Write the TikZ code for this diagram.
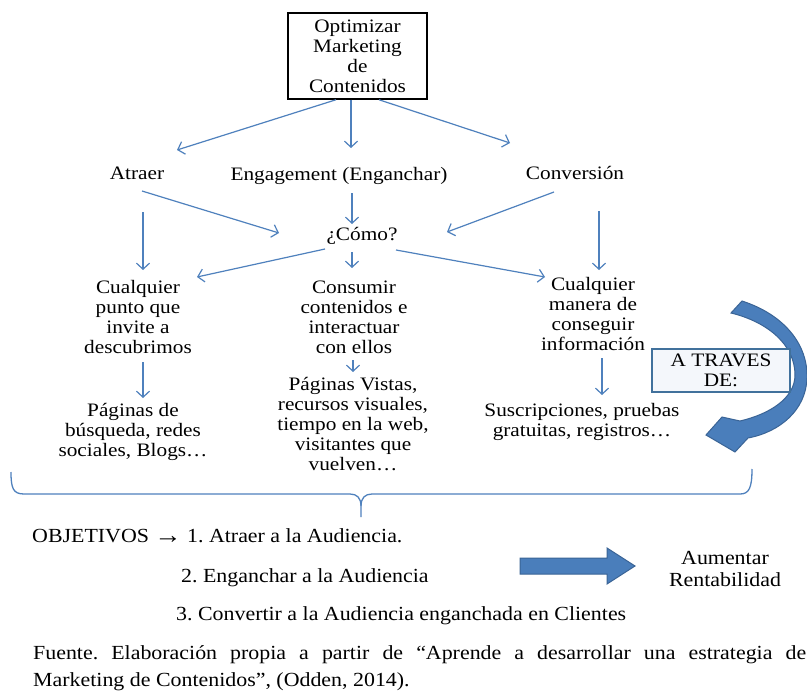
\documentclass[tikz,border=0pt]{standalone}
\usepackage{fontspec}
\setmainfont{Liberation Serif}
\newfontfamily\dgfont[FakeStretch=1.12]{Liberation Serif}
\newfontfamily\ftfont[FakeStretch=1.095]{Liberation Serif}
\usetikzlibrary{arrows.meta}
\definecolor{linkblue}{HTML}{4F81BD}
\definecolor{shapeblue}{HTML}{4A7EBB}
\definecolor{edgeblue}{HTML}{3A6496}
\definecolor{frameblue}{HTML}{41719C}
\definecolor{paleblue}{HTML}{F4F7FB}
\frenchspacing
\begin{document}
\begin{tikzpicture}[x=1pt,y=-1pt,
  lbl/.style={font=\dgfont\fontsize{19}{20}\selectfont, align=center, inner sep=0pt, anchor=base},
  foot/.style={font=\ftfont\fontsize{20}{22}\selectfont, inner sep=0pt, anchor=base west},
  link/.style={draw=linkblue, line width=1.2pt, -{Straight Barb[length=6pt,width=13pt]}},
  brace/.style={draw=linkblue, line width=1.3pt},
  block/.style={fill=shapeblue, draw=edgeblue, line width=1pt},
]
\path[use as bounding box, fill=white] (0,0) rectangle (807,693);

% title box
\node[lbl, anchor=center, draw=black, line width=1.5pt, minimum width=139pt, minimum height=86pt] (top) at (357.5,56)
  {Optimizar\\Marketing\\de\\Contenidos};

% first level
\node[lbl] (atraer) at (137,179) {Atraer};
\node[lbl] (eng) at (339,180) {Engagement (Enganchar)};
\node[lbl] (conv) at (575,179) {Conversión};

% question
\node[lbl] (como) at (362,240) {¿Cómo?};

% second level (anchored on the baseline of the last line)
\node[lbl] (c1) at (138,353) {Cualquier\\punto que\\invite a\\descubrimos};
\node[lbl] (c2) at (354,353) {Consumir\\contenidos e\\interactuar\\con ellos};
\node[lbl] (c3) at (593,350) {Cualquier\\manera de\\conseguir\\información};

% examples
\node[lbl] (p1) at (133,456) {Páginas de\\búsqueda, redes\\sociales, Blogs…};
\node[lbl] (p2) at (353,470) {Páginas Vistas,\\recursos visuales,\\tiempo en la web,\\visitantes que\\vuelven…};
\node[lbl] (p3) at (582,436) {Suscripciones, pruebas\\gratuitas, registros…};

% connectors
\draw[link] ([xshift=-21.5pt]top.south) -- ([xshift=40pt,yshift=29pt]atraer.base);
\draw[link] ([xshift=-6.5pt]top.south) -- ([xshift=12pt,yshift=32pt]eng.base);
\draw[link] ([xshift=21.5pt]top.south) -- ([xshift=-65pt,yshift=36pt]conv.base);
\draw[link] ([xshift=5pt,yshift=-12pt]atraer.base) -- ([xshift=-83pt,yshift=7pt]como.base);
\draw[link] ([xshift=13pt,yshift=-13pt]eng.base) -- ([xshift=-10pt,yshift=16pt]como.base);
\draw[link] ([xshift=-21pt,yshift=-13pt]conv.base) -- ([xshift=85pt,yshift=8pt]como.base);
\draw[link] ([xshift=6pt,yshift=-33pt]atraer.base) -- ([xshift=5pt,yshift=83pt]c1.base);
\draw[link] ([xshift=24pt,yshift=-32pt]conv.base) -- ([xshift=6pt,yshift=80pt]c3.base);
\draw[link] ([xshift=-37pt,yshift=-9pt]como.base) -- ([xshift=59pt,yshift=76pt]c1.base);
\draw[link] ([xshift=-10pt,yshift=-12pt]como.base) -- ([xshift=-2pt,yshift=85pt]c2.base);
\draw[link] ([xshift=34pt,yshift=-10pt]como.base) -- ([xshift=-48pt,yshift=73pt]c3.base);
\draw[link] ([xshift=5pt,yshift=-9pt]c1.base) -- ([xshift=10pt,yshift=58pt]p1.base);
\draw[link] ([xshift=-1pt,yshift=-7pt]c2.base) -- ([yshift=98pt]p2.base);
\draw[link] ([xshift=9pt,yshift=-8pt]c3.base) -- ([xshift=20pt,yshift=41pt]p3.base);

% curved block arrow
\path[block]
  (742,301) .. controls (785,315) and (808,345) .. (807,378)
  .. controls (806,410) and (780,432) .. (748,438)
  -- (735,452) -- (706,435) -- (722,417) -- (740,421)
  .. controls (770,414) and (795,398) .. (795,375)
  .. controls (795,345) and (768,322) .. (731,313) -- cycle;

\node[lbl, anchor=center, draw=frameblue, fill=paleblue, line width=2pt,
      minimum width=138pt, minimum height=43pt] (traves) at (721,370.5) {A TRAVES\\DE:};

% brace
\draw[brace] (11,472) .. controls (11,488) and (13,494) .. (24,494) -- (350,494)
  .. controls (357,494) and (361,498) .. (361,506) -- (361,517);
\draw[brace] (361,506) .. controls (361,498) and (365,494) .. (372,494) -- (740,494)
  .. controls (749,494) and (752,488) .. (752,469);

% objectives
\node[foot] (obj) at (32,542) {OBJETIVOS \raisebox{-1pt}{\fontsize{25}{25}\selectfont →}};
\node[foot] (o1) at (187,542) {1. Atraer a la Audiencia.};
\node[foot] (o2) at (181,582) {2. Enganchar a la Audiencia};
\node[foot] (o3) at (176,620) {3. Convertir a la Audiencia enganchada en Clientes};

% straight block arrow
\path[block] (520,558) -- (607,558) -- (607,548) -- (635,566) -- (607,584) -- (607,574) -- (520,574) -- cycle;
\node[foot, anchor=base, align=center] (aum) at (725,586) {Aumentar\\Rentabilidad};

% source
\node[foot] (src1) at (33,659) {\makebox[773pt][s]{Fuente. Elaboración propia a partir de “Aprende a desarrollar una estrategia de}};
\node[foot] (src2) at (33,686) {Marketing de Contenidos”, (Odden, 2014).};
\end{tikzpicture}
\end{document}
